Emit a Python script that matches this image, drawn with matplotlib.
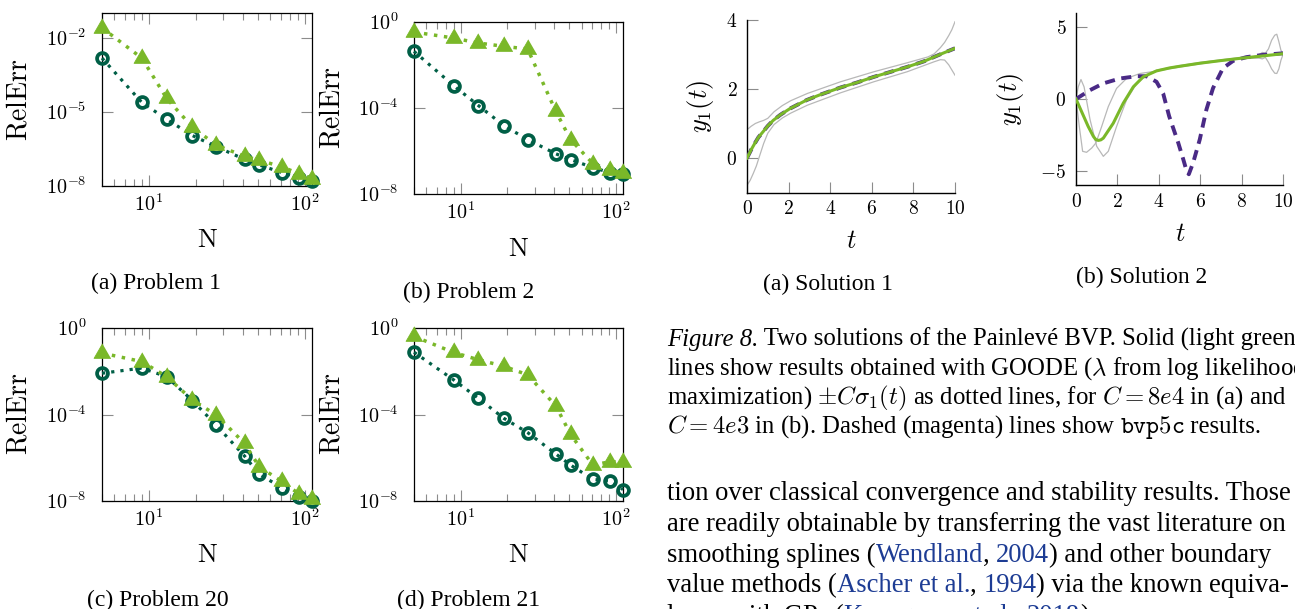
import matplotlib
matplotlib.use("Agg")
import matplotlib.pyplot as plt
from matplotlib.ticker import LogLocator, NullLocator, NullFormatter

W, H = 1295, 609

plt.rcParams["font.family"] = ["Liberation Serif", "DejaVu Serif"]
plt.rcParams["mathtext.fontset"] = "cm"

LIGHT = "#7ab829"
DARK = "#005f46"
PURPLE = "#4a2a86"
GREY = "#b8b8b8"
TICK = "#8c8c8c"
CITE = "#1d3c94"

# ---- convergence study: RelErr against N ----
N = [5, 9, 13, 19, 27, 41, 51, 71, 91, 111]

p1_circ = [1.5e-3, 2.4e-5, 5.0e-6, 1.1e-6, 3.9e-7, 1.2e-7, 7.1e-8, 3.5e-8, 2.2e-8, 1.6e-8]
p1_tri = [2.5e-2, 1.5e-3, 3.5e-5, 2.4e-6, 4.5e-7, 1.6e-7, 1.1e-7, 6.0e-8, 3.2e-8, 2.0e-8]

p2_circ = [4.3e-2, 1.1e-3, 1.3e-4, 1.5e-5, 3.4e-6, 7.4e-7, 4.0e-7, 1.7e-7, 1.0e-7, 8.7e-8]
p2_tri = [0.34, 0.18, 0.105, 7.4e-2, 5.5e-2, 6.9e-5, 3.4e-6, 2.6e-7, 1.35e-7, 9.5e-8]

p20_circ = [8.1e-3, 1.4e-2, 5.6e-3, 4.4e-4, 3.2e-5, 1.2e-6, 1.7e-7, 4.2e-8, 1.5e-8, 9.5e-9]
p20_tri = [6.9e-2, 2.8e-2, 5.6e-3, 4.7e-4, 9.5e-5, 4.6e-6, 3.8e-7, 8.1e-8, 2.2e-8, 1.3e-8]

p21_circ = [7.6e-2, 4.0e-3, 5.6e-4, 6.6e-5, 1.45e-5, 1.5e-6, 4.6e-7, 1.0e-7, 8.5e-8, 3.4e-8]
p21_tri = [0.41, 7.4e-2, 3.4e-2, 1.7e-2, 6.8e-3, 2.5e-4, 1.2e-5, 4.6e-7, 6.5e-7, 6.5e-7]

# ---- Painleve solutions ----
s1_t = [0, 0.2, 0.37, 0.55, 0.77, 1.0, 1.26, 1.6, 2.06, 2.87, 3.5, 4.48, 5.3, 6.09, 7.7, 8.5, 9.31, 10]
s1_goode = [0, 0.24, 0.42, 0.6, 0.76, 0.93, 1.09, 1.25, 1.43, 1.68, 1.83, 2.04, 2.19, 2.35, 2.64, 2.8, 3.01, 3.18]
s1_bvp = [0, 0.24, 0.42, 0.6, 0.76, 0.93, 1.09, 1.25, 1.43, 1.68, 1.83, 2.04, 2.19, 2.35, 2.64, 2.8, 3.01, 3.18]
s1_up_t = [0, 0.2, 0.4, 0.6, 0.8, 1.0, 1.3, 1.7, 2.1, 2.9, 4.5, 6.1, 7.7, 8.7, 9.0, 9.3, 9.5, 9.7, 9.85, 10]
s1_up = [0.82, 0.92, 1.0, 1.05, 1.09, 1.15, 1.34, 1.52, 1.66, 1.87, 2.21, 2.5, 2.76, 2.93, 3.02, 3.2, 3.35, 3.55, 3.72, 3.95]
s1_lo_t = [0, 0.15, 0.3, 0.45, 0.6, 0.8, 1.0, 1.3, 1.7, 2.1, 2.9, 4.5, 6.1, 7.7, 9.0, 9.3, 9.5, 9.7, 9.85, 10]
s1_lo = [-0.79, -0.65, -0.45, -0.23, 0.05, 0.42, 0.72, 0.97, 1.16, 1.3, 1.53, 1.89, 2.21, 2.5, 2.79, 2.85, 2.84, 2.7, 2.55, 2.4]

s2_t = [0, 0.27, 0.59, 0.84, 0.95, 1.08, 1.2, 1.32, 1.8, 2.28, 2.77, 3.25, 3.89, 4.53, 5, 6, 7, 8, 9, 10]
s2_goode = [0, -0.88, -1.92, -2.61, -2.82, -2.89, -2.85, -2.73, -1.69, -0.3, 0.85, 1.55, 1.96, 2.17, 2.28, 2.5, 2.68, 2.85, 3.0, 3.16]
s2_bvp_t = [0, 0.68, 1.32, 2.12, 2.93, 3.41, 3.89, 4.21, 4.5, 4.94, 5.18, 5.34, 5.45, 5.66, 5.98, 6.3, 6.62, 7.1, 7.59, 8.23, 9.04, 10]
s2_bvp = [0, 0.62, 1.09, 1.43, 1.59, 1.59, 1.2, 0.39, -1.2, -3.06, -4.2, -5.0, -5.25, -4.44, -2.82, -0.74, 0.76, 2.15, 2.66, 2.92, 3.08, 3.19]
s2_a_t = [0, 0.11, 0.24, 0.39, 0.68, 1.0, 1.32, 1.56, 1.96, 2.44, 2.93, 3.41, 3.89, 5, 6, 7, 8, 8.6,
          8.85, 9.0, 9.15, 9.3, 9.45, 9.6, 9.7, 9.8, 9.9, 10]
s2_a = [0, 0.85, 1.36, 0.85, -1.45, -3.3, -4.0, -3.65, -1.92, -0.07, 1.09, 1.66, 2.01, 2.33, 2.55, 2.73, 2.9, 2.97,
        3.1, 3.25, 3.2, 3.5, 4.1, 4.45, 4.52, 4.0, 3.4, 3.17]
s2_b_t = [0, 0.16, 0.32, 0.51, 0.76, 0.96, 1.24, 1.56, 1.96, 2.44, 3.09, 3.89, 5, 6, 7, 8, 8.6,
          8.85, 9.0, 9.15, 9.3, 9.45, 9.6, 9.7, 9.8, 9.9, 10]
s2_b = [0, -1.92, -3.65, -3.72, -3.42, -3.07, -1.92, -0.53, 0.74, 1.43, 1.78, 1.95, 2.23, 2.45, 2.65, 2.8, 2.85,
        2.85, 2.8, 2.9, 2.55, 2.1, 1.8, 1.78, 2.1, 2.7, 3.1]

TRI = [(0, 1), (-0.866, -0.5), (0.866, -0.5)]
DOTS = (0, (1, 1.9))

fig = plt.figure(figsize=(W / 100, H / 100), dpi=100)


def box(l, t, r, b):
    return [l / W, 1 - b / H, (r - l) / W, (b - t) / H]


def put(x, y, s, **kw):
    return fig.text(x / W, 1 - y / H, s, **kw)


def err_panel(rect, circ, tri, y_exp, ylim):
    ax = fig.add_axes(box(*rect))
    ax.set_xscale("log")
    ax.set_yscale("log")
    ax.plot(N, circ, color=DARK, lw=2.3, ls=DOTS, marker="o", ms=7.8, mfc="none",
            mec=DARK, mew=2.7, clip_on=False, zorder=3)
    ax.plot(N, tri, color=LIGHT, lw=2.5, ls=DOTS, marker=TRI, ms=14, mfc=LIGHT,
            mec=LIGHT, mew=0.6, clip_on=False, zorder=4)
    ax.set_xlim(N[0], N[-1])
    ax.set_ylim(*ylim)
    ax.set_xticks([10, 100], labels=["$10^{1}$", "$10^{2}$"])
    ax.xaxis.set_minor_locator(LogLocator(subs=range(2, 10)))
    ax.xaxis.set_minor_formatter(NullFormatter())
    ax.set_yticks([10.0 ** e for e in y_exp], labels=[f"$10^{{{e}}}$" for e in y_exp])
    ax.yaxis.set_minor_locator(NullLocator())
    ax.tick_params(which="both", direction="in", top=True, right=True, color=TICK,
                   width=0.8, labelsize=14.5)
    ax.tick_params(which="major", length=8)
    ax.tick_params(which="minor", length=5)
    ax.tick_params(axis="x", pad=6)
    ax.tick_params(axis="y", pad=11)
    for sp in ax.spines.values():
        sp.set_linewidth(0.9)
    return ax


def sol_panel(rect, greys, bvp, goode, ylim, yticks):
    ax = fig.add_axes(box(*rect))
    for tg, g in greys:
        ax.plot(tg, g, color=GREY, lw=0.9, zorder=2)
    ax.plot(*bvp, color=PURPLE, lw=2.8, ls=(0, (2.6, 1.7)), zorder=3)
    ax.plot(*goode, color=LIGHT, lw=2.2, zorder=4)
    ax.set_xlim(0, 10)
    ax.set_ylim(*ylim)
    ax.spines[["top", "right"]].set_visible(False)
    for sp in ax.spines.values():
        sp.set_linewidth(1.0)
    xt = [0, 2, 4, 6, 8, 10]
    ax.set_xticks(xt, labels=[f"${v}$" for v in xt])
    ax.set_yticks(yticks, labels=[f"${v}$" for v in yticks])
    ax.tick_params(direction="in", length=8, color=TICK, width=0.8, labelsize=14)
    ax.tick_params(axis="x", pad=5.5)
    ax.tick_params(axis="y", pad=7)
    return ax


err_panel((102, 13, 312, 186), p1_circ, p1_tri, [-8, -5, -2], (1e-8, 1e-1))
err_panel((414, 22, 623, 194), p2_circ, p2_tri, [-8, -4, 0], (1e-8, 1))
err_panel((102, 328, 312, 501), p20_circ, p20_tri, [-8, -4, 0], (1e-8, 1))
err_panel((414, 328, 623, 501), p21_circ, p21_tri, [-8, -4, 0], (1e-8, 1))

sol_panel((747, 20, 955, 192.5), [(s1_up_t, s1_up), (s1_lo_t, s1_lo)],
          (s1_t, s1_bvp), (s1_t, s1_goode), (-1, 4), [0, 2, 4])
sol_panel((1076, 13, 1283, 185), [(s2_a_t, s2_a), (s2_b_t, s2_b)],
          (s2_bvp_t, s2_bvp), (s2_t, s2_goode), (-6, 6), [-5, 0, 5])

# axis labels
for x, y in [(20, 100), (333, 108), (20, 414), (333, 414)]:
    put(x, y, r"$\mathrm{RelErr}$", fontsize=20, rotation=90, ha="center", va="center")
for x, y in [(207, 241), (518, 250), (207, 556), (518, 556)]:
    put(x, y, r"$\mathrm{N}$", fontsize=19, ha="center", va="center")
put(700, 106, r"$y_1(t)$", fontsize=19, rotation=90, ha="center", va="center")
put(1010, 99, r"$y_1(t)$", fontsize=19, rotation=90, ha="center", va="center")
put(851, 242, r"$t$", fontsize=19, ha="center", va="center")
put(1180, 235, r"$t$", fontsize=19, ha="center", va="center")

# sub-captions
for x, y, s in [(156, 283, "(a) Problem 1"), (469, 292, "(b) Problem 2"),
                (158, 600, "(c) Problem 20"), (469, 600, "(d) Problem 21"),
                (828, 284, "(a) Solution 1"), (1142, 277, "(b) Solution 2")]:
    put(x, y, s, fontsize=17, ha="center", va="center")

# caption and running text, drawn piece by piece
renderer = fig.canvas.get_renderer()


def advance(s, opts):
    probe = fig.text(0, 0, s + "|", **opts)
    bar = fig.text(0, 0, "|", **opts)
    w = probe.get_window_extent(renderer).width - bar.get_window_extent(renderer).width
    probe.remove()
    bar.remove()
    return w


def line(x, y, parts, size):
    for s, kw in parts:
        opts = dict(fontsize=size, va="baseline", ha="left")
        opts.update(kw)
        put(x, y, s, **opts)
        x += advance(s, opts)


caption = [
    [("Figure 8.", {"style": "italic"}), (" Two solutions of the Painlevé BVP. Solid (light green)", {})],
    [(r"lines show results obtained with GOODE ($\lambda$ from log likelihood", {})],
    [(r"maximization) $\pm C\sigma_1(t)$ as dotted lines, for $C = 8e4$ in (a) and", {})],
    [(r"$C = 4e3$ in (b). Dashed (magenta) lines show ", {}), (r"$\mathtt{bvp5c}$", {}),
     (" results.", {})],
]
body = [
    [("tion over classical convergence and stability results. Those", {})],
    [("are readily obtainable by transferring the vast literature on", {})],
    [("smoothing splines (", {}), ("Wendland", {"color": CITE}), (", ", {}),
     ("2004", {"color": CITE}), (") and other boundary", {})],
    [("value methods (", {}), ("Ascher et al.", {"color": CITE}), (", ", {}),
     ("1994", {"color": CITE}), (") via the known equiva-", {})],
    [("lence with GPs (", {}), ("Kanagawa et al.", {"color": CITE}), (", ", {}),
     ("2018", {"color": CITE}), (").", {})],
]
for i, parts in enumerate(caption):
    line(667, 346 + 29 * i, parts, 17.8)
for i, parts in enumerate(body):
    line(667, 500 + 30.8 * i, parts, 19.2)

fig.savefig("out.png", dpi=100)
